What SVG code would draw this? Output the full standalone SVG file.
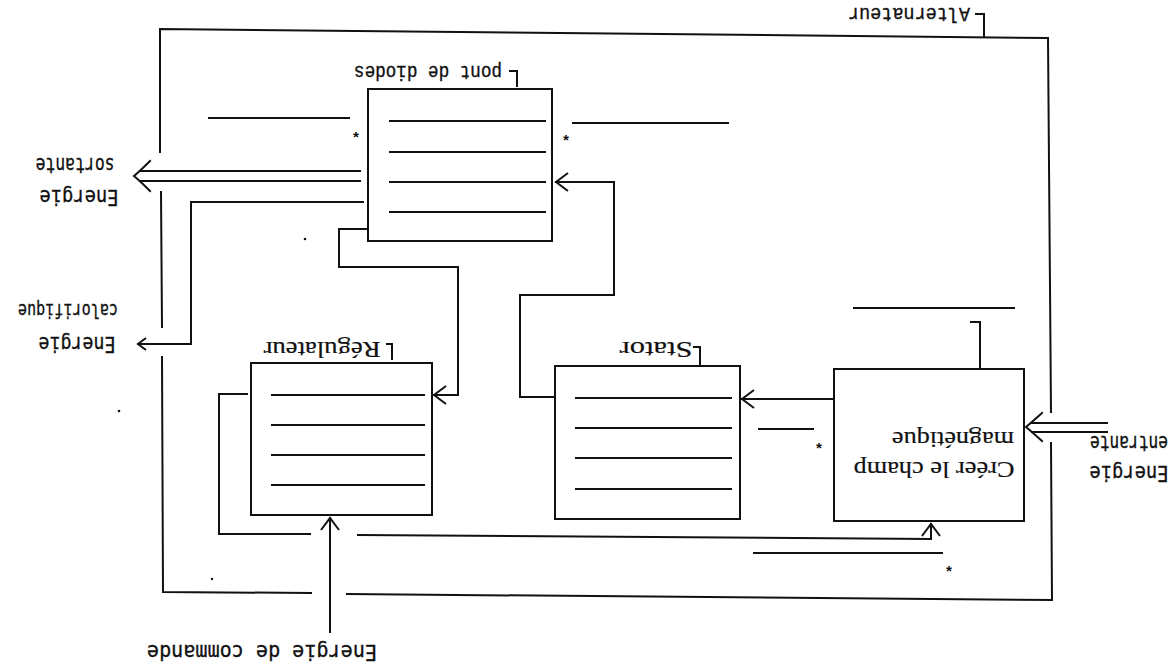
<svg xmlns="http://www.w3.org/2000/svg" width="1173" height="672" viewBox="0 0 1173 672">
<style>
.ln{fill:none;stroke:#111;stroke-width:2;stroke-linecap:square;stroke-linejoin:miter}
.bx{fill:#fff;stroke:#111;stroke-width:2}
.serif{font-family:"Liberation Serif","Times New Roman",serif;fill:#111;stroke:#111;stroke-width:0.2}
.mono{font-family:"Liberation Mono","Courier New",monospace;fill:#111;stroke:#111;stroke-width:0.35}
.sans{font-family:"DejaVu Sans Mono","Liberation Mono",monospace;fill:#111;stroke:#111;stroke-width:0.3}
.star{font-family:"Liberation Mono",monospace;font-weight:bold;font-size:15px;fill:#111}
</style>
<defs>
<marker id="arr" viewBox="-14 -10 16 20" refX="0" refY="0" markerWidth="16" markerHeight="20" markerUnits="userSpaceOnUse" orient="auto">
<path d="M-12,-9 L0,0 L-12,9" fill="none" stroke="#111" stroke-width="2"/>
</marker>
<marker id="arrs" viewBox="-10 -8 12 16" refX="0" refY="0" markerWidth="12" markerHeight="16" markerUnits="userSpaceOnUse" orient="auto">
<path d="M-8,-6 L0,0 L-8,6" fill="none" stroke="#111" stroke-width="2"/>
</marker>
</defs>
<rect width="1173" height="672" fill="#fff"/>

<g id="alternateur">
<path class="ln" d="M160,152 L160,29 L1048,38 L1051,412"/>
<path class="ln" d="M161,192 L162,327"/>
<path class="ln" d="M162,357 L163,592 L311,593"/>
<path class="ln" d="M347,594 L1052,600 L1051,443"/>
<path class="ln" d="M984,37 L984,14 L976,14"/>
<text class="mono" font-size="20" x="909" y="21.6" text-anchor="middle" textLength="122" lengthAdjust="spacingAndGlyphs" transform="rotate(180 909 15)">Alternateur</text>
</g>

<g id="pont-de-diodes">
<rect class="bx" x="368" y="89" width="184" height="152"/>
<path class="ln" d="M390,121H545M390,152H545M390,182H545M390,212H545"/>
<path class="ln" d="M517,86 L517,71 L510,71"/>
<text class="mono" font-size="20" x="428" y="79.6" text-anchor="middle" textLength="148" lengthAdjust="spacingAndGlyphs" transform="rotate(180 428 73)">pont de diodes</text>
<path class="ln" d="M209,118H349"/>
<path class="ln" d="M573,123H728"/>
<text class="star" x="356" y="143" text-anchor="middle">*</text>
<text class="star" x="566" y="146" text-anchor="middle">*</text>
</g>

<g id="regulateur">
<rect class="bx" x="251" y="363" width="181" height="152"/>
<path class="ln" d="M272,395H424M272,425H424M272,455H424M272,485H424"/>
<path class="ln" d="M392,359 L392,344 L387,344"/>
<text class="serif" font-size="23" x="322" y="357.6" text-anchor="middle" textLength="117" lengthAdjust="spacingAndGlyphs" transform="rotate(180 322 350)">Régulateur</text>
</g>

<g id="stator">
<rect class="bx" x="555" y="366" width="185" height="153"/>
<path class="ln" d="M700,364 L700,347 L694,347"/>
<path class="ln" d="M576,398H731M576,428H731M576,458H731M576,489H731"/>
<text class="serif" font-size="23" x="656" y="357.6" text-anchor="middle" textLength="73" lengthAdjust="spacingAndGlyphs" transform="rotate(180 656 350)">Stator</text>
</g>

<g id="creer-champ">
<rect class="bx" x="834" y="369" width="190" height="152"/>
<text class="serif" font-size="24" x="934" y="478" text-anchor="middle" textLength="161" lengthAdjust="spacingAndGlyphs" transform="rotate(180 934 470)">Créer le champ</text>
<text class="serif" font-size="24" x="953" y="448" text-anchor="middle" textLength="122" lengthAdjust="spacingAndGlyphs" transform="rotate(180 953 440)">magnétique</text>
<path class="ln" d="M980,368 L980,322 L971,322"/>
<path class="ln" d="M854,308H1014"/>
<path class="ln" d="M759,429H813"/>
<text class="star" x="819" y="454" text-anchor="middle">*</text>
</g>

<g id="labels">
<text class="sans" font-size="21" x="79" y="204" text-anchor="middle" textLength="79" lengthAdjust="spacingAndGlyphs" transform="rotate(180 79 197)">Energie</text>
<text class="sans" font-size="21" x="75" y="172" text-anchor="middle" textLength="79" lengthAdjust="spacingAndGlyphs" transform="rotate(180 75 165)">sortante</text>
<text class="sans" font-size="21" x="77" y="351" text-anchor="middle" textLength="77" lengthAdjust="spacingAndGlyphs" transform="rotate(180 77 344)">Energie</text>
<text class="sans" font-size="20" x="68" y="318" text-anchor="middle" textLength="100" lengthAdjust="spacingAndGlyphs" transform="rotate(180 68 311)">calorifique</text>
<text class="sans" font-size="21" x="1129" y="480" text-anchor="middle" textLength="79" lengthAdjust="spacingAndGlyphs" transform="rotate(180 1129 473)">Energie</text>
<text class="sans" font-size="21" x="1129" y="450" text-anchor="middle" textLength="78" lengthAdjust="spacingAndGlyphs" transform="rotate(180 1129 443)">entrante</text>
<text class="sans" font-size="21" x="262" y="659" text-anchor="middle" textLength="230" lengthAdjust="spacingAndGlyphs" transform="rotate(180 262 652)">Energie de commande</text>
</g>

<g id="connectors">
<path class="ln" d="M555,397 H520 V295 H614 V182 H556" marker-end="url(#arr)"/>
<path class="ln" d="M368,229 H339 V267 H458 V395 H434" marker-end="url(#arr)"/>
<path class="ln" d="M363,202 H191 V344 H138" marker-end="url(#arrs)"/>
<path class="ln" d="M247,394 H219 V534 H310"/>
<path class="ln" d="M358,535 L931,539 V524" marker-end="url(#arr)"/>
<path class="ln" d="M330,632 V518" marker-end="url(#arr)"/>
<path class="ln" d="M834,399 H742" marker-end="url(#arr)"/>
<path class="ln" d="M754,553H942"/>
<text class="star" x="949" y="577" text-anchor="middle">*</text>
<path class="ln" d="M360,171 H140 M360,181 H140"/>
<path class="ln" d="M150,161 Q140,171 134,176 Q140,181 150,191"/>
<path class="ln" d="M1107,423 H1032 M1107,432 H1032"/>
<path class="ln" d="M1042,413 Q1032,422 1026,427 Q1032,432 1042,441"/>
<circle cx="305" cy="239" r="1.3" fill="#111"/>
<circle cx="119" cy="411" r="1.3" fill="#111"/>
<circle cx="212" cy="579" r="1.2" fill="#111"/>
</g>
</svg>
